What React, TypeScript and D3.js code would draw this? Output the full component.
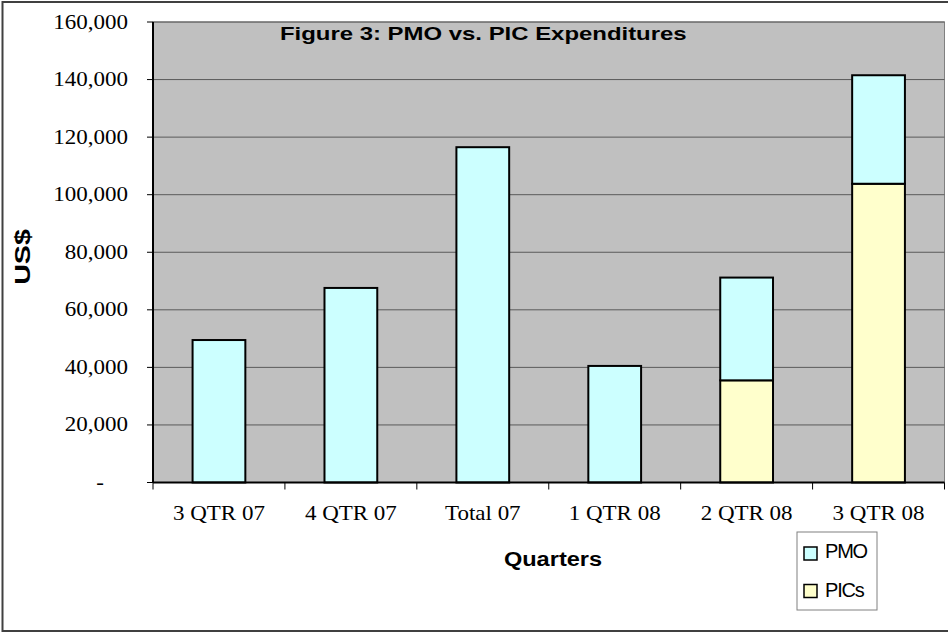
import * as d3 from "d3";

const categories = ["3 QTR 07", "4 QTR 07", "Total 07", "1 QTR 08", "2 QTR 08", "3 QTR 08"];
const pmoValues = [49500, 67600, 116500, 40500, 35700, 37700];
const picValues = [0, 0, 0, 0, 35500, 103800];
const yTicks = [0, 20000, 40000, 60000, 80000, 100000, 120000, 140000, 160000];
const seriesKeys = ["PICs", "PMO"];

const colors: Record<string, string> = { PMO: "#CCFFFF", PICs: "#FFFFCC" };

export default function App() {
  const W = 948;
  const H = 634;
  const left = 153, right = 944.5, top = 22, bottom = 482.5;

  const x = d3.scaleBand<string>().domain(categories).range([left, right]).paddingInner(0.6).paddingOuter(0.3);
  const y = d3.scaleLinear().domain([0, 160000]).range([bottom, top]);

  const rows = categories.map((c, i) => ({ cat: c, PMO: pmoValues[i], PICs: picValues[i] }));
  const stacked = d3.stack<any>().keys(seriesKeys)(rows);

  const fmt = d3.format(",");
  const serif = "'Liberation Serif', 'Times New Roman', serif";
  const sans = "'Liberation Sans', Arial, sans-serif";

  // the picture stretches glyphs horizontally, mimic with a scale
  const sx = 1.15;
  const step = x.step();
  const boundaries = d3.range(categories.length + 1).map((i) => left + i * step);

  return (
    <svg width={W} height={H} style={{ position: "absolute", left: 0, top: 0, background: "#fff" }}>
      <rect x={2.5} y={2} width={W + 10} height={629} fill="#fff" stroke="#404040" strokeWidth={2} />

      {/* plot area */}
      <rect x={left} y={top} width={right - left} height={bottom - top} fill="#C0C0C0" stroke="#808080" strokeWidth={1} />
      {yTicks.filter((t) => t > 0).map((t) => (
        <line key={t} x1={left} x2={right} y1={y(t)} y2={y(t)} stroke="#5a5a5a" strokeWidth={1} />
      ))}

      {/* bars */}
      {stacked.map((s) =>
        s.map((d, i) =>
          d[1] - d[0] > 0 ? (
            <rect
              key={s.key + i}
              x={x(categories[i])!}
              y={y(d[1])}
              width={x.bandwidth()}
              height={y(d[0]) - y(d[1])}
              fill={colors[s.key]}
              stroke="#000"
              strokeWidth={2}
            />
          ) : null
        )
      )}

      {/* axes */}
      <line x1={left} x2={left} y1={top} y2={bottom} stroke="#000" strokeWidth={2} />
      <line x1={left} x2={right} y1={bottom} y2={bottom} stroke="#000" strokeWidth={2} />
      {yTicks.map((t) => (
        <g key={"yt" + t}>
          <line x1={left - 6} x2={left} y1={y(t)} y2={y(t)} stroke="#000" strokeWidth={1} />
          <text
            transform={`translate(${t === 0 ? 104 : 128},${y(t) + 6.5}) scale(${sx},1)`}
            textAnchor="end"
            fontFamily={serif}
            fontSize={20}
            fill="#000"
          >
            {t === 0 ? "-" : fmt(t)}
          </text>
        </g>
      ))}
      {boundaries.map((b, i) => (
        <line key={"xt" + i} x1={b} x2={b} y1={bottom} y2={bottom + 7} stroke="#000" strokeWidth={1} />
      ))}
      {categories.map((c) => (
        <text
          key={"xl" + c}
          transform={`translate(${x(c)! + x.bandwidth() / 2},520) scale(${sx},1)`}
          textAnchor="middle"
          fontFamily={serif}
          fontSize={20}
          fill="#000"
        >
          {c}
        </text>
      ))}

      {/* titles */}
      <text transform={`translate(280,40) scale(1.33,1)`} fontFamily={sans} fontWeight="bold" fontSize={18} fill="#000">
        Figure 3: PMO vs. PIC Expenditures
      </text>
      <text transform={`translate(553,566) scale(1.15,1)`} textAnchor="middle" fontFamily={sans} fontWeight="bold" fontSize={20.5} fill="#000">
        Quarters
      </text>
      <text transform={`translate(30,257) rotate(-90) scale(1.3,1)`} textAnchor="middle" fontFamily={sans} fontWeight="bold" fontSize={22} fill="#000">
        US$
      </text>

      {/* legend */}
      <rect x={797} y={532} width={80} height={78} fill="#fff" stroke="#808080" strokeWidth={1} />
      {["PMO", "PICs"].map((k, i) => (
        <g key={"lg" + k}>
          <rect x={804} y={i === 0 ? 547 : 584.5} width={13} height={13} fill={colors[k]} stroke="#000" strokeWidth={1.5} />
          <text x={825} y={i === 0 ? 558 : 597} fontFamily={sans} fontSize={20} letterSpacing={-1.2} fill="#000">
            {k}
          </text>
        </g>
      ))}
    </svg>
  );
}
